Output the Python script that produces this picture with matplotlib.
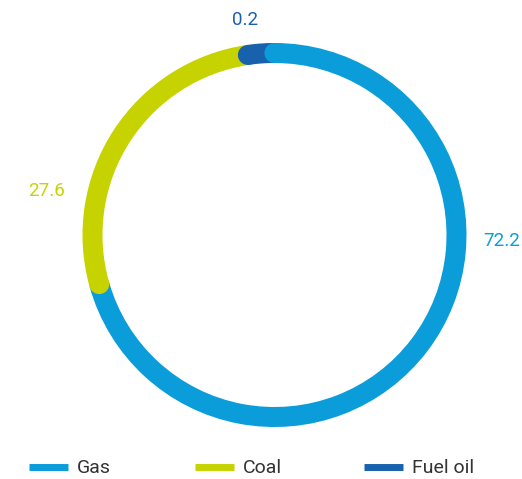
import matplotlib

matplotlib.use("Agg")
import matplotlib.pyplot as plt  # noqa: E402
import numpy as np  # noqa: E402
from matplotlib.patches import Circle, Wedge  # noqa: E402

# ---- data -------------------------------------------------------------
categories = ["Gas", "Coal", "Fuel oil"]
shares = [72.2, 27.6, 0.2]
value_labels = ["72.2", "27.6", "0.2"]

# ---- styling ----------------------------------------------------------
colors = ["#0a9dd9", "#c6d300", "#1862ad"]
text_grey = "#333333"
font = ["Roboto", "DejaVu Sans"]

# value labels: clockwise angle from 12 o'clock (deg), distance from centre (px)
label_angle = [91.5, 281.0, 352.3]
label_radius = [227, 232, 217]

W, H = 522, 479
CX, CY = 274.5, 235.0
R_OUT, RING = 192.0, 20.0
MIN_SWEEP = 8.4  # tiny slices still get a visible stub

fig = plt.figure(figsize=(W / 100, H / 100), dpi=100)
ax = fig.add_axes([0, 0, 1, 1])
ax.set_xlim(0, W)
ax.set_ylim(H, 0)  # pixel-like coords, y down -> wedge angles run clockwise
ax.set_aspect("equal")
ax.axis("off")

sweep = np.asarray(shares, dtype=float) / sum(shares) * 360.0
small = sweep < MIN_SWEEP
sweep[small] = MIN_SWEEP
sweep[~small] *= (360.0 - small.sum() * MIN_SWEEP) / sweep[~small].sum()
starts = np.concatenate([[0.0], np.cumsum(sweep)[:-1]])

r_mid = R_OUT - RING / 2


def polar(theta, r):
    """clockwise-from-top angle -> data coords"""
    phi = np.deg2rad(theta - 90.0)
    return CX + r * np.cos(phi), CY + r * np.sin(phi)


for a, s, c in zip(starts, sweep, colors):
    ax.add_patch(Wedge((CX, CY), R_OUT, a - 90.0, a + s - 90.0, width=RING,
                       facecolor=c, edgecolor="none", lw=0))

# round cap at the start of every slice, laid over the previous one
for a, c in zip(starts, colors):
    ax.add_patch(Circle(polar(a, r_mid), RING / 2, facecolor=c,
                        edgecolor="none", lw=0, zorder=3))

for lab, th, r, c in zip(value_labels, label_angle, label_radius, colors):
    x, y = polar(th, r)
    ax.text(x, y, lab, color=c, fontsize=13.5, family=font,
            ha="center", va="center")

# legend row
leg_x = [29, 195, 364]
leg_y = 467
for x, name, c in zip(leg_x, categories, colors):
    ax.plot([x, x + 39], [leg_y, leg_y], color=c, lw=5.0,
            solid_capstyle="butt")
    ax.text(x + 48, leg_y + 1, name, color=text_grey, fontsize=14,
            family=font, ha="left", va="center")

fig.savefig("out.png", dpi=100)
